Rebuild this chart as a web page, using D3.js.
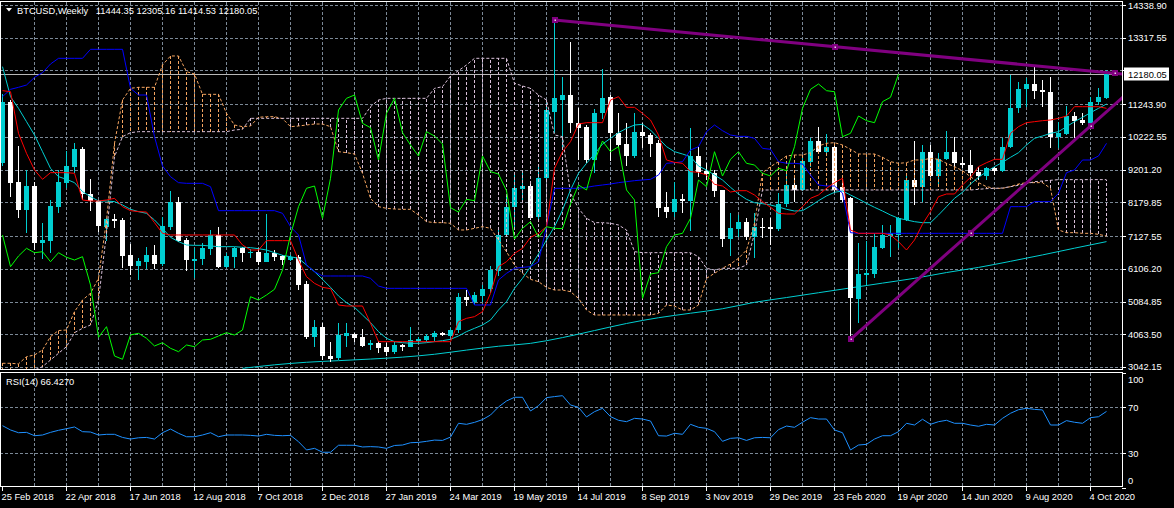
<!DOCTYPE html>
<html><head><meta charset="utf-8">
<script src="https://cdn.jsdelivr.net/npm/d3@7"></script>
<style>
html,body{margin:0;padding:0;background:#000;}
svg{display:block;}
text{font-family:"Liberation Sans",Arial,sans-serif;font-size:9.3px;fill:#fff;white-space:pre;}
</style></head><body>
<svg id="c" width="1174" height="508"></svg>
<script>
// ---------------- DATA ----------------
const symbol = "BTCUSD,Weekly";
const tickLabels = ["25 Feb 2018","22 Apr 2018","17 Jun 2018","12 Aug 2018","7 Oct 2018","2 Dec 2018","27 Jan 2019","24 Mar 2019","19 May 2019","14 Jul 2019","8 Sep 2019","3 Nov 2019","29 Dec 2019","23 Feb 2020","19 Apr 2020","14 Jun 2020","9 Aug 2020","4 Oct 2020"];
const priceLabels = [14338.90,13317.55,12296.20,11243.90,10222.55,9201.20,8179.85,7127.55,6106.20,5084.85,4063.50,3042.15];
const rsiLevels = [70,30];
const rsiLabels = [100,70,30,0];

const openP = [9400,11312,8825,7942,8690,6921,6983,8046,8795,9294,
 9845,8431,8223,7422,7661,7630,6537,6194,6329,6537,
 6257,7422,8202,7006,6350,6403,6725,7162,6173,6485,
 6746,6622,6640,6328,6609,6506,6381,6485,5632,3988,
 4300,3386,3314,4010,4072,3969,3729,3801,3676,3520,
 3729,3676,3864,3885,3988,4113,4010,4197,5236,5080,
 5258,5467,6047,7162,8026,8588,8690,7714,8931,11010,
 11374,11530,10647,10541,9502,10959,11478,10335,10001,9627,
 10366,10282,10023,8035,7879,8275,8232,9627,9159,9087,
 8566,7037,7349,7577,7110,7420,7420,7339,8129,8722,
 8566,9449,10095,9761,9917,8669,8307,5164,5913,5944,
 6746,7130,7162,7630,8878,8669,9761,9003,9524,9761,
 9418,9346,9137,9003,9243,9168,9898,11115,11708,11874,
 11686,11634,10229,10313,10875,10750,10666,11322,11444.35];
const highP = [11550,11374,9939,9190,8800,7536,8254,9190,9783,10022,
 9900,8899,8260,7700,7806,7680,6881,6433,6797,6839,
 7713,8535,8337,7070,6756,6903,7317,7420,6600,6797,
 6797,6725,6746,7817,6693,6537,6537,6537,5735,4509,
 4406,3832,4406,4406,4094,4219,3885,3864,3782,3832,
 3760,4281,3988,4072,4166,4144,4250,5342,5445,5392,
 5601,6194,7420,8357,9087,9087,8825,9293,11271,13871,
 12102,13194,11115,10600,11084,12332,11530,10959,10666,10959,
 10666,10354,10126,8513,8825,8432,10491,9917,9399,9190,
 8575,7838,7786,7682,7838,7682,7682,8463,9087,9034,
 9658,10198,10541,10313,10023,8900,8350,6921,6983,7214,
 7474,7474,7733,9000,10105,9970,9970,9711,10417,10229,
 9605,9814,9293,9293,9293,10179,12155,11946,12052,12414,
 11998,12083,10697,11187,11010,10959,11478,11739,12305.16];
const lowP = [9300,8357,7692,7233,6693,6412,6609,7838,8618,9086,
 8254,7921,7266,6985,7370,6121,5913,5757,6090,6090,
 6200,7318,6950,6048,5820,6225,6537,6122,6132,6122,
 6328,6444,6225,6319,6360,6225,6360,5445,3907,3676,
 3261,3208,3261,3676,3832,3657,3573,3470,3386,3448,
 3551,3657,3782,3832,3864,4010,3988,4113,4946,4978,
 5080,5361,5882,7090,7317,8254,7630,7651,8878,10335,
 9814,10335,9502,9400,9106,10772,9471,9917,9315,9555,
 9866,9605,7733,7682,7733,7838,7296,8981,8878,8357,
 6777,6506,7090,7005,6434,7058,6849,7296,8045,8201,
 8544,9293,9711,9730,8463,8200,3907,4425,5601,5810,
 6715,6485,6746,7610,8098,8201,8981,8669,9502,9293,
 9243,8931,8878,8878,9034,9137,9867,10959,11146,11395,
 11146,9866,9866,10282,10179,10594,10563,11218,11414.53];
const closeP = [11312,8794,7942,8690,6921,7005,8067,8826,9315,9845,
 8431,8223,7442,7661,7609,6506,6194,6350,6537,6257,
 7442,8202,6985,6381,6412,6746,7162,6173,6506,6746,
 6609,6640,6328,6609,6466,6381,6485,5601,3969,4300,
 3386,3283,4041,4094,3938,3698,3801,3626,3520,3729,
 3676,3885,3907,4010,4113,4041,4197,5236,5133,5289,
 5467,6070,7162,8045,8619,8690,7683,8931,11062,11427,
 11530,10647,10510,9502,10959,11427,10354,9970,9627,10385,
 10251,10001,8014,7879,8275,8232,9627,9137,9065,8544,
 7037,7370,7577,7090,7420,7370,7359,8129,8722,8566,
 9471,10095,9761,9917,8566,8254,5186,5944,5986,6797,
 7162,7214,7682,8878,8669,9761,9003,9524,9761,9399,
 9346,9087,9003,9243,9168,9917,11115,11708,11874,11665,
 11634,10229,10335,10875,10729,10666,11322,11458,12180.05];

// Ichimoku lines
const tenkan = [11666,11634,10334,9710,9190,8899,9107,9107,9107,9086,
 8254,8223,8223,8254,8306,8046,7921,7890,7879,7546,
 7214,7162,7162,7162,7162,7162,7162,7162,7162,7162,
 6850,6693,6693,6985,6985,6985,6985,6381,5861,5653,
 5528,5487,4977,4946,4946,4946,4405,3833,3833,3833,
 3833,3833,3833,3833,3833,3833,3833,4457,4561,4613,
 4769,5341,6173,6329,6589,6745,7089,7214,7422,9242,
 9762,10074,10625,10667,10667,10667,11374,11478,11146,11146,
 10958,10750,10282,9502,9429,9398,9138,9117,9034,8743,
 8690,8503,8544,8544,8410,8202,8025,7838,7817,7817,
 8045,8306,8410,8618,8795,8930,7318,7214,7214,7214,
 7214,7162,6954,6693,7006,7500,7890,8357,8441,8441,
 8722,8962,9294,9418,9523,9523,10334,10542,10667,10698,
 10729,10750,10802,10875,11166,11166,11166,11166,11114];
const kijun = [11478,11707,11770,11842,12082,12227,12498,12675,12675,12675,
 12675,12956,12956,12956,12956,12956,11738,11530,11530,10230,
 9315,8982,8795,8774,8774,8774,8670,7921,7921,7921,
 7921,7921,7921,7921,7921,7838,7422,7162,6225,6017,
 5882,5882,5882,5882,5882,5882,5809,5570,5497,5497,
 5497,5497,5497,5497,5497,5497,5497,5497,5497,4977,
 4977,4977,5757,5965,6121,6153,6173,6329,7422,8618,
 8618,8618,8618,8649,8691,8722,8753,8795,8826,8857,
 8878,8899,9034,9398,9419,9450,9814,9918,10386,10594,
 10417,10282,10240,10240,10178,9866,9835,9450,9399,9399,
 9377,9034,8722,8691,8691,8470,7234,7214,7214,7214,
 7214,7214,7214,7214,7214,7214,7214,7214,7214,7214,
 7214,7214,7214,7214,7214,7214,8046,8046,8046,8202,
 8202,8202,8462,9107,9190,9502,9502,9627,10022];
const spanA = [3158,3158,3140,3364,3417,3573,3990,4180,4197,4770,
 5133,5341,5810,7630,10022,11374,11738,11770,11770,11770,
 12467,12748,12748,12259,12186,11551,11551,11551,10958,10594,
 10542,10563,10834,10854,10854,10792,10542,10563,10594,10625,
 10625,10542,9762,9731,9689,9086,8306,8046,7994,7973,
 7963,7963,7786,7578,7547,7547,7526,7318,7318,7370,
 7422,7370,7006,6641,6225,5965,5778,5705,5528,5445,
 5445,5393,5185,4821,4665,4665,4665,4665,4665,4665,
 4665,4665,4717,4977,4946,4821,4821,4977,5809,5966,
 6122,6256,6434,6693,7527,9105,9294,9450,9627,9658,
 9658,9731,9939,10023,10043,9970,9835,9689,9689,9689,
 9585,9450,9398,9419,9502,9502,9554,9523,9398,9294,
 9169,8982,8795,8670,8618,8618,8670,8753,8795,8795,
 8795,8618,7318,7234,7234,7214,7214,7182,7130];
const spanB = [2637,2741,2793,2845,2949,3053,3261,3469,3677,4114,
 4249,4353,5133,7214,9606,10230,10355,10386,10386,10386,
 10386,10386,10386,10386,10386,10386,10386,10386,10386,10438,
 10459,10802,10802,10802,10802,10802,10802,10802,10802,10802,
 10802,10802,10802,10802,10802,10802,11166,11374,11426,11426,
 11426,11426,11426,11426,11738,11790,12123,12290,12467,12675,
 12675,12675,12675,12675,11894,11811,11738,11530,11374,10282,
 10230,8462,7994,7682,7547,7547,7526,7474,7318,6641,
 6610,6610,6610,6610,6610,6610,6610,6485,6121,6069,
 6121,6121,6121,6225,7214,8566,8566,8566,8566,8566,
 8566,8566,8566,8566,8566,8566,8566,8566,8566,8566,
 8566,8566,8566,8566,8566,8566,8566,8566,8566,8566,
 8566,8566,8587,8608,8618,8628,8670,8712,8763,8826,
 8847,8868,8889,8889,8889,8889,8889,8889,8889];
const chikouShift = 26;

// moving averages
const fastMA = [12415,11478,11114,10698,10282,9762,9242,8982,8899,8795,
 8514,8358,8223,8223,8202,8098,7963,7890,7838,7630,
 7370,7089,6954,6850,6839,6839,6818,6798,6798,6798,
 6777,6766,6735,6693,6610,6527,6485,6433,6225,6017,
 5778,5528,5258,5050,4904,4665,4426,4145,3937,3833,
 3802,3781,3781,3802,3833,3864,3906,4010,4145,4249,
 4353,4509,4821,5081,5497,5809,6173,6568,7006,7422,
 7942,8566,9086,9398,9689,10001,10178,10355,10490,10594,
 10615,10438,10178,9918,9762,9689,9606,9315,9190,9034,
 8878,8650,8441,8275,8170,8139,8098,8036,7963,7910,
 7921,8067,8232,8379,8494,8535,8410,8285,8150,8025,
 7910,7786,7682,7630,7578,7546,7546,7786,8045,8307,
 8494,8753,8962,9137,9293,9430,9586,9731,9970,10178,
 10251,10334,10386,10542,10698,10834,10979,11114,11250];
const slowMAWeek  = [30,34,38,42,46,50,54,58,62,66,70,74,78,82,86,90,94,98,102,106,110,114,118,122,126,130,134,138];
const slowMAValue = [3000,3110,3190,3240,3290,3350,3440,3570,3690,3780,3960,4180,4400,4580,4720,4860,5060,5210,5360,5510,5660,5810,5990,6150,6340,6540,6750,6955];

const rsi = [54.0,50.3,47.9,48.2,45.3,45.9,48.2,50.0,51.4,52.9,
 48.8,48.5,45.9,46.5,46.5,43.8,42.4,43.5,43.8,42.4,
 47.9,51.1,47.4,44.4,44.4,45.9,47.9,44.4,45.9,45.9,
 45.9,45.6,45.0,46.5,45.6,45.3,45.6,40.1,32.9,34.3,
 30.9,30.9,37.0,37.0,37.0,35.5,35.8,35.5,34.3,36.8,
 37.2,39.2,39.5,40.4,41.5,41.2,44.1,56.1,55.2,56.9,
 59.3,63.3,70.3,75.5,78.7,78.7,66.8,71.4,78.4,79.3,
 80.1,72.0,70.0,61.6,66.2,69.1,61.9,58.7,57.5,60.4,
 59.8,58.1,45.3,45.0,47.4,46.5,55.2,52.6,51.7,48.8,
 40.4,43.0,43.5,41.2,43.5,43.8,43.5,50.6,53.7,52.6,
 57.0,61.0,59.8,59.8,50.3,47.9,32.9,37.2,37.8,42.4,
 45.3,45.3,48.8,56.1,54.6,59.6,55.2,57.5,58.7,56.1,
 56.1,54.6,53.5,55.2,54.6,60.4,64.8,67.9,69.1,68.2,
 67.7,54.6,54.6,58.4,57.0,56.1,61.0,61.8,66.427];

// trend lines (week index, price)
const trendTopWeeks = [69,104,139];
const trendTopPrices = [13871,13039,12207];
const trendBotWeeks = [106,121,136];
const trendBotPrices = [3907,7235,10563];

// ---------------- DRAW ----------------
const W = 1174, H = 508;
const N = closeP.length;
const R = 1122;              // right edge of panels
const x = d3.scaleLinear().domain([0,140]).range([2.5,1122.5]);
const y = d3.scaleLinear().domain([3042.15,14338.90]).range([367,5]);
const yR = d3.scaleLinear().domain([0,100]).range([487.8,372.8]);
const cx = i => Math.floor(x(i)) + 0.5;

const GRID = "#7b8896", BULL = "#00CED1", BEAR = "#ffffff", MA = "#00CED1";
const SANDY = "#F4A460", THISTLE = "#D8BFD8", PURPLE = "#800080";

const svg = d3.select("#c");
svg.append("rect").attr("width",W).attr("height",H).attr("fill","#000");
const defs = svg.append("defs");
defs.append("clipPath").attr("id","cm").append("rect").attr("x",1).attr("y",2).attr("width",R-1).attr("height",367);
defs.append("clipPath").attr("id","cr").append("rect").attr("x",1).attr("y",373).attr("width",R-1).attr("height",113);

// grid main
const gGrid = svg.append("g").attr("clip-path","url(#cm)").attr("shape-rendering","crispEdges")
  .attr("stroke",GRID).attr("stroke-dasharray","3,2");
gGrid.selectAll(".h").data(priceLabels).join("line").attr("class","h")
  .attr("x1",0).attr("x2",R).attr("y1",d=>Math.round(y(d))+0.5).attr("y2",d=>Math.round(y(d))+0.5);
const vIdx = d3.range(4,140,4);
gGrid.selectAll(".v").data(vIdx).join("line").attr("class","v")
  .attr("x1",d=>cx(d)).attr("x2",d=>cx(d)).attr("y1",2).attr("y2",369);

// grid rsi
const gGridR = svg.append("g").attr("clip-path","url(#cr)").attr("shape-rendering","crispEdges")
  .attr("stroke",GRID).attr("stroke-dasharray","3,2");
gGridR.selectAll(".h").data(rsiLevels).join("line").attr("class","h")
  .attr("x1",0).attr("x2",R).attr("y1",d=>Math.round(yR(d))+0.5).attr("y2",d=>Math.round(yR(d))+0.5);
gGridR.selectAll(".v").data(vIdx).join("line").attr("class","v")
  .attr("x1",d=>cx(d)).attr("x2",d=>cx(d)).attr("y1",373).attr("y2",486);

// main plot group
const g = svg.append("g").attr("clip-path","url(#cm)");

// current price line
g.append("line").attr("x1",0).attr("x2",R)
  .attr("y1",Math.round(y(closeP[N-1]))+0.5).attr("y2",Math.round(y(closeP[N-1]))+0.5)
  .attr("stroke","#b8b8b8").attr("shape-rendering","crispEdges");

// slow MA
const slowPts = slowMAWeek.map((w,k)=>[w,slowMAValue[k]]);
g.append("path").attr("d",d3.line().x(d=>x(d[0])).y(d=>y(d[1])).curve(d3.curveMonotoneX)(slowPts))
  .attr("fill","none").attr("stroke",MA);

// candles
const idx = d3.range(N);
const gc = g.append("g").attr("shape-rendering","crispEdges");
idx.forEach(i=>{
  const o=openP[i], c=closeP[i], bull=c>=o, col=bull?BULL:BEAR;
  const xc = Math.floor(x(i));
  const yh = Math.round(y(highP[i])), yl = Math.round(y(lowP[i]));
  gc.append("rect").attr("x",xc).attr("width",1).attr("y",yh).attr("height",Math.max(1,yl-yh)).attr("fill",col);
  const yt = Math.round(y(Math.max(o,c))), yb = Math.round(y(Math.min(o,c)));
  gc.append("rect").attr("x",xc-2).attr("width",5).attr("y",yt).attr("height",Math.max(1,yb-yt)).attr("fill",col);
});

// cloud hatching (drawn over the candles, as in the terminal)
g.append("g").attr("shape-rendering","crispEdges").selectAll("line").data(idx).join("line")
  .attr("x1",i=>cx(i)).attr("x2",i=>cx(i))
  .attr("y1",i=>y(spanA[i])).attr("y2",i=>y(spanB[i]))
  .attr("stroke",i=>spanA[i]>=spanB[i]?SANDY:THISTLE).attr("stroke-dasharray","3,2");
const lineIdx = arr => d3.line().x((d,i)=>x(i)).y(d=>y(d))(arr);
g.append("path").attr("d",lineIdx(spanA)).attr("fill","none").attr("stroke",SANDY).attr("stroke-dasharray","3,2");
g.append("path").attr("d",lineIdx(spanB)).attr("fill","none").attr("stroke",THISTLE).attr("stroke-dasharray","3,2");

// indicator lines
g.append("path").attr("d",lineIdx(fastMA)).attr("fill","none").attr("stroke",MA);
g.append("path").attr("d",lineIdx(kijun)).attr("fill","none").attr("stroke","#0000ff");
g.append("path").attr("d",lineIdx(tenkan)).attr("fill","none").attr("stroke","#ff0000");
const chikouPts = closeP.slice(chikouShift).map((c,k)=>[k,c]);
g.append("path").attr("d",d3.line().x(d=>x(d[0])).y(d=>y(d[1]))(chikouPts))
  .attr("fill","none").attr("stroke","#00ff00");

// trend lines (rays to the right edge)
function ray(ws,ps){
  const w0=ws[0], p0=ps[0], w1=ws[ws.length-1], p1=ps[ps.length-1];
  const slope=(p1-p0)/(w1-w0);
  const wEnd = x.domain()[1] + 1;
  g.append("line").attr("x1",x(w0)).attr("y1",y(p0)).attr("x2",x(wEnd)).attr("y2",y(p0+slope*(wEnd-w0)))
    .attr("stroke",PURPLE).attr("stroke-width",3);
  ws.forEach((w,k)=>{
    g.append("rect").attr("x",Math.round(x(w))-3).attr("y",Math.round(y(ps[k]))-3).attr("width",6).attr("height",6).attr("fill",PURPLE);
    g.append("rect").attr("x",Math.round(x(w))-0.5).attr("y",Math.round(y(ps[k]))-0.5).attr("width",1.5).attr("height",1.5).attr("fill","#e8d0e8");
  });
}
ray(trendTopWeeks,trendTopPrices);
ray(trendBotWeeks,trendBotPrices);

// RSI
svg.append("g").attr("clip-path","url(#cr)").append("path")
  .attr("d",d3.line().x((d,i)=>x(i)).y(d=>yR(d))(rsi))
  .attr("fill","none").attr("stroke","#1E90FF");

// frames
const fr = svg.append("g").attr("fill","none").attr("stroke","#fff").attr("shape-rendering","crispEdges");
fr.append("rect").attr("x",0.5).attr("y",1.5).attr("width",R).attr("height",368);
fr.append("rect").attr("x",0.5).attr("y",372.5).attr("width",R).attr("height",114);

// price axis
const lastY = y(closeP[N-1]);
const ax = svg.append("g");
ax.selectAll("line").data(priceLabels).join("line")
  .attr("x1",R).attr("x2",R+4).attr("y1",d=>Math.round(y(d))+0.5).attr("y2",d=>Math.round(y(d))+0.5)
  .attr("stroke","#fff").attr("shape-rendering","crispEdges");
ax.selectAll("text").data(priceLabels.filter(d=>Math.abs(y(d)-lastY)>9)).join("text")
  .attr("x",R+6).attr("y",d=>Math.min(Math.max(y(d)+3.5,8.5),370)).text(d=>d.toFixed(2));
// current price box
ax.append("rect").attr("x",R+2).attr("y",Math.round(lastY)-6.5).attr("width",45).attr("height",13).attr("fill","#fff");
ax.append("text").attr("x",R+6).attr("y",lastY+3.5).style("fill","#000").text(closeP[N-1].toFixed(2));

// rsi axis
const axR = svg.append("g");
axR.selectAll("line").data(rsiLabels).join("line")
  .attr("x1",R).attr("x2",R+4).attr("y1",d=>Math.round(yR(d))+0.5).attr("y2",d=>Math.round(yR(d))+0.5)
  .attr("stroke","#fff").attr("shape-rendering","crispEdges");
axR.selectAll("text").data(rsiLabels).join("text")
  .attr("x",R+6).attr("y",d=>Math.min(Math.max(yR(d)+3.5,382.5),484)).text(d=>d);

// date axis
const dx = svg.append("g");
tickLabels.forEach((t,k)=>{
  const xi = Math.floor(x(k*8));
  dx.append("line").attr("x1",xi+0.5).attr("x2",xi+0.5).attr("y1",487).attr("y2",491)
    .attr("stroke","#fff").attr("shape-rendering","crispEdges");
  dx.append("text").attr("x",xi-0.5).attr("y",500).text(t);
});

// titles
svg.append("path").attr("d","M6,8 L12,8 L9,11.5 Z").attr("fill","#fff");
svg.append("text").attr("x",17).attr("y",13.5)
  .text(`${symbol}   ${openP[N-1].toFixed(2)} ${highP[N-1].toFixed(2)} ${lowP[N-1].toFixed(2)} ${closeP[N-1].toFixed(2)}`);
svg.append("text").attr("x",6).attr("y",384.5).text(`RSI(14) ${rsi[N-1].toFixed(4)}`);
</script>
</body></html>
